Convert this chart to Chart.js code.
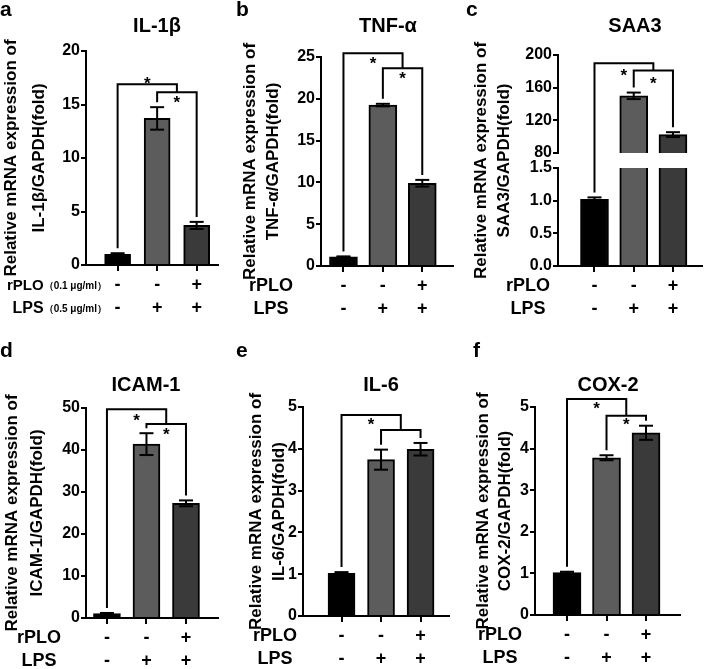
<!DOCTYPE html>
<html>
<head>
<meta charset="utf-8">
<script src="https://cdn.jsdelivr.net/npm/chart.js@4.4.1/dist/chart.umd.min.js"></script>
<style>
  html, body { margin: 0; padding: 0; background: #fff; }
  #fig { position: relative; width: 708px; height: 669px; overflow: hidden; }
</style>
</head>
<body>
<div id="fig"></div>
<script>
// ─── Data ────────────────────────────────────────────────────────────────
const groups = ['Control', 'LPS', 'rPLO+LPS'];
const rplo = ['-', '-', '+'];
const lps = ['-', '+', '+'];

// significance brackets: group 0 → middle of (1,2), then group 1 → group 2
const sigFrom = [0, 1];
const sigTo = [1.5, 2];

const il1bMean = [1.0, 13.7, 3.7];
const il1bErr = [0.1, 1.05, 0.33];
const il1bTicks = [0, 5, 10, 15, 20];
const il1bSig = [16.9, 16.15];
const il1bMarks = ['*', '*'];

const tnfMean = [1.1, 19.25, 9.9];
const tnfErr = [0.05, 0.15, 0.4];
const tnfTicks = [0, 5, 10, 15, 20, 25];
const tnfSig = [25.45, 23.65];
const tnfMarks = ['*', '*'];

const saa3Mean = [1.02, 150, 102.5];
const saa3Err = [0.03, 4, 3];
const saa3TicksHigh = [80, 120, 160, 200];
const saa3TicksLow = [0, 0.5, 1.0, 1.5];
const saa3Sig = [190, 181];
const saa3Marks = ['*', '*'];

const icamMean = [1.05, 41.4, 27.3];
const icamErr = [0.15, 2.6, 0.7];
const icamTicks = [0, 10, 20, 30, 40, 50];
const icamSig = [49.7, 46.2];
const icamMarks = ['*', '*'];

const il6Mean = [1.02, 3.74, 3.99];
const il6Err = [0.03, 0.24, 0.15];
const il6Ticks = [0, 1, 2, 3, 4, 5];
const il6Sig = [4.81, 4.45];
const il6Marks = ['*', ''];

const coxMean = [1.02, 3.78, 4.38];
const coxErr = [0.02, 0.06, 0.17];
const coxTicks = [0, 1, 2, 3, 4, 5];
const coxSig = [5.19, 4.79];
const coxMarks = ['*', '*'];

// ─── Style ───────────────────────────────────────────────────────────────
const W = 708, H = 669;
const FONT = '"Liberation Sans", Arial, Helvetica, sans-serif';
const barColors = ['#000000', '#5c5c5c', '#3a3a3a'];
const Y_TITLE = 'Relative mRNA expression of';

Chart.defaults.font.family = FONT;
Chart.defaults.color = '#000';

const fig = document.getElementById('fig');

const panels = {
  a: { mean: il1bMean, err: il1bErr, ticks: il1bTicks, sig: il1bSig, marks: il1bMarks,
       axisX: 86, topY: 51, axisY: 265, endX: 218, xMin: -0.8, xMax: 2.54, barW: 26,
       title: 'IL-1β', titleX: 157, titleY: 32, letter: 'a', letterX: 0, letterY: 16,
       yLab: 'IL-1β/GAPDH(fold)', yLabX: [11, 39], rowX: 107, units: true, starDy: [-4.5, 6.5] },
  b: { mean: tnfMean, err: tnfErr, ticks: tnfTicks, sig: tnfSig, marks: tnfMarks,
       axisX: 321, topY: 57, axisY: 266, endX: 453, xMin: -0.57, xMax: 2.78, barW: 28,
       title: 'TNF-α', titleX: 388, titleY: 32, letter: 'b', letterX: 236, letterY: 16,
       yLab: 'TNF-α/GAPDH(fold)', yLabX: [250, 273], rowX: 271, starDy: [6.5, 6.5] },
  c: { mean: saa3Mean, err: saa3Err, sig: saa3Sig, marks: saa3Marks,
       axisX: 558, topY: 55, breakTop: 153, breakBottom: 168, axisY: 266, endX: 702,
       xMin: -0.93, xMax: 2.74, barW: 28,
       title: 'SAA3', titleX: 635, titleY: 32, letter: 'c', letterX: 466, letterY: 16,
       yLab: 'SAA3/GAPDH(fold)', yLabX: [481, 504], rowX: 528, starDy: [8.5, 8.5] },
  d: { mean: icamMean, err: icamErr, ticks: icamTicks, sig: icamSig, marks: icamMarks,
       axisX: 86, topY: 408, axisY: 618, endX: 218, xMin: -0.53, xMax: 2.81, barW: 27,
       title: 'ICAM-1', titleX: 146, titleY: 391, letter: 'd', letterX: 0, letterY: 357,
       yLab: 'ICAM-1/GAPDH(fold)', yLabX: [12, 37], rowX: 39, starDy: [7.5, 6] },
  e: { mean: il6Mean, err: il6Err, ticks: il6Ticks, sig: il6Sig, marks: il6Marks,
       axisX: 303, topY: 407, axisY: 616, endX: 449, xMin: -0.975, xMax: 2.72, barW: 27,
       title: 'IL-6', titleX: 381, titleY: 391, letter: 'e', letterX: 236, letterY: 357,
       yLab: 'IL-6/GAPDH(fold)', yLabX: [256, 279], rowX: 275, starDy: [5.5, 5.5] },
  f: { mean: coxMean, err: coxErr, ticks: coxTicks, sig: coxSig, marks: coxMarks,
       axisX: 535, topY: 407, axisY: 615, endX: 680, xMin: -0.81, xMax: 2.86, barW: 28,
       title: 'COX-2', titleX: 608, titleY: 391, letter: 'f', letterX: 473, letterY: 357,
       yLab: 'COX-2/GAPDH(fold)', yLabX: [483, 505], rowX: 500, starDy: [5, 5] }
};

// ─── Drawing helpers ─────────────────────────────────────────────────────
function seg(ctx, x1, y1, x2, y2) {
  ctx.beginPath();
  ctx.moveTo(x1, y1);
  ctx.lineTo(x2, y2);
  ctx.stroke();
}

function annotate(ctx, p, xScale, yPix) {
  ctx.save();
  ctx.strokeStyle = '#000';
  ctx.fillStyle = '#000';
  ctx.lineWidth = 2;
  ctx.lineCap = 'butt';

  // error bars
  p.mean.forEach((m, i) => {
    const x = xScale.getPixelForValue(i);
    const t = yPix(m + p.err[i]);
    const b = yPix(m - p.err[i]);
    seg(ctx, x, t, x, b);
    seg(ctx, x - 7, t, x + 7, t);
    seg(ctx, x - 7, b, x + 7, b);
  });

  // significance brackets
  p.sig.forEach((level, k) => {
    const y = yPix(level);
    const xs = [sigFrom[k], sigTo[k]];
    const px = xs.map(v => xScale.getPixelForValue(v));
    const ends = xs.map(v => Number.isInteger(v)
      ? yPix(p.mean[v] + p.err[v]) - 5
      : yPix(p.sig[k + 1]));
    ctx.beginPath();
    ctx.moveTo(px[0], ends[0]);
    ctx.lineTo(px[0], y);
    ctx.lineTo(px[1], y);
    ctx.lineTo(px[1], ends[1]);
    ctx.stroke();
    if (p.marks[k]) {
      ctx.font = 'bold 17px ' + FONT;
      ctx.textAlign = 'center';
      ctx.textBaseline = 'alphabetic';
      ctx.fillText(p.marks[k], (px[0] + px[1]) / 2, y + p.starDy[k] + 0.57 * 17);
    }
  });

  // panel letter and title
  ctx.textAlign = 'left';
  ctx.textBaseline = 'alphabetic';
  ctx.font = 'bold 21px ' + FONT;
  ctx.fillText(p.letter, p.letterX, p.letterY);
  ctx.textAlign = 'center';
  ctx.font = 'bold 20px ' + FONT;
  ctx.fillText(p.title, p.titleX, p.titleY);

  // rotated y title
  const cy = (p.topY + p.axisY) / 2;
  [Y_TITLE, p.yLab].forEach((txt, i) => {
    ctx.save();
    ctx.translate(p.yLabX[i], cy);
    ctx.rotate(-Math.PI / 2);
    ctx.textAlign = 'center';
    ctx.textBaseline = 'middle';
    ctx.font = 'bold 17px ' + FONT;
    ctx.fillText(txt, 0, 0);
    ctx.restore();
  });

  // row names for the +/- table under the axis
  const row1 = p.axisY + 6 + 3 + 11.5;
  const rows = [['rPLO', '（0.1 μg/ml）', 15], ['LPS', '（0.5 μg/ml）', 16]];
  ctx.textBaseline = 'middle';
  rows.forEach((r, i) => {
    const y = row1 + i * 23;
    if (p.units) {
      ctx.textAlign = 'right';
      ctx.font = 'bold 10px ' + FONT;
      ctx.fillText(r[1], p.rowX, y + 1);
      const w = ctx.measureText(r[1]).width;
      ctx.font = 'bold ' + r[2] + 'px ' + FONT;
      ctx.fillText(r[0], p.rowX - w, y);
    } else {
      ctx.textAlign = 'center';
      ctx.font = 'bold 18px ' + FONT;
      ctx.fillText(r[0], p.rowX, y);
    }
  });
  ctx.restore();
}

// ─── Chart builder ───────────────────────────────────────────────────────
function makeChart(p, part, plugins) {
  const cv = document.createElement('canvas');
  cv.width = W;
  cv.height = H;
  cv.style.cssText = 'position:absolute;left:0;top:0;width:' + W + 'px;height:' + H + 'px';
  fig.appendChild(cv);

  const ticks = part.ticks;
  return new Chart(cv, {
    type: 'bar',
    data: {
      datasets: [{
        data: p.mean.map((v, i) => ({ x: i, y: v })),
        backgroundColor: barColors,
        borderColor: '#000',
        borderWidth: 2,
        borderSkipped: 'start',
        barThickness: p.barW,
        clip: 0
      }]
    },
    options: {
      responsive: false,
      animation: false,
      events: [],
      devicePixelRatio: 1,
      layout: {
        padding: {
          left: p.axisX - 60,
          right: W - p.endX,
          top: part.top,
          bottom: part.showX ? H - p.axisY - 60 : H - part.bottom
        }
      },
      plugins: { legend: { display: false }, tooltip: { enabled: false } },
      scales: {
        x: {
          type: 'linear',
          display: part.showX,
          min: p.xMin,
          max: p.xMax,
          offset: false,
          z: 1,
          afterBuildTicks: s => { s.ticks = groups.map((g, i) => ({ value: i })); },
          afterFit: s => { s.height = part.showX ? 60 : 0; },
          grid: { offset: false, drawOnChartArea: false, tickLength: 6, color: '#000', lineWidth: 2 },
          border: { color: '#000', width: 2 },
          ticks: {
            autoSkip: false,
            maxRotation: 0,
            padding: 3,
            color: '#000',
            font: { size: 18, weight: 'bold', lineHeight: '23px' },
            callback: v => [rplo[v], lps[v]]
          }
        },
        y: {
          type: 'linear',
          min: ticks[0],
          max: ticks[ticks.length - 1],
          z: 1,
          afterBuildTicks: s => { s.ticks = ticks.map(v => ({ value: v })); },
          afterFit: s => { s.width = 60; },
          grid: { drawOnChartArea: false, tickLength: 5, color: '#000', lineWidth: 2 },
          border: { color: '#000', width: 2 },
          ticks: {
            autoSkip: false,
            padding: 1,
            color: '#000',
            font: { size: 16, weight: 'bold' },
            callback: part.fmt || (v => v)
          }
        }
      }
    },
    plugins: plugins || []
  });
}

// ordinary panels
['a', 'b', 'd', 'e', 'f'].forEach(key => {
  const p = panels[key];
  makeChart(p, { top: p.topY, showX: true, ticks: p.ticks }, [{
    id: 'annot_' + key,
    afterDraw(chart) {
      const ys = chart.scales.y;
      annotate(chart.ctx, p, chart.scales.x, v => ys.getPixelForValue(v));
    }
  }]);
});

// SAA3 with a broken y axis: two stacked segments
const pc = panels.c;
const saa3Upper = makeChart(pc, { top: pc.topY, bottom: pc.breakTop, showX: false, ticks: saa3TicksHigh });
makeChart(pc, { top: pc.breakBottom, showX: true, ticks: saa3TicksLow, fmt: v => Number(v).toFixed(1) }, [{
  id: 'annot_c',
  afterDraw(chart) {
    const lo = chart.scales.y;
    const hi = saa3Upper.scales.y;
    annotate(chart.ctx, pc, chart.scales.x,
      v => v >= saa3TicksHigh[0] ? hi.getPixelForValue(v) : lo.getPixelForValue(v));
  }
}]);
</script>
</body>
</html>
